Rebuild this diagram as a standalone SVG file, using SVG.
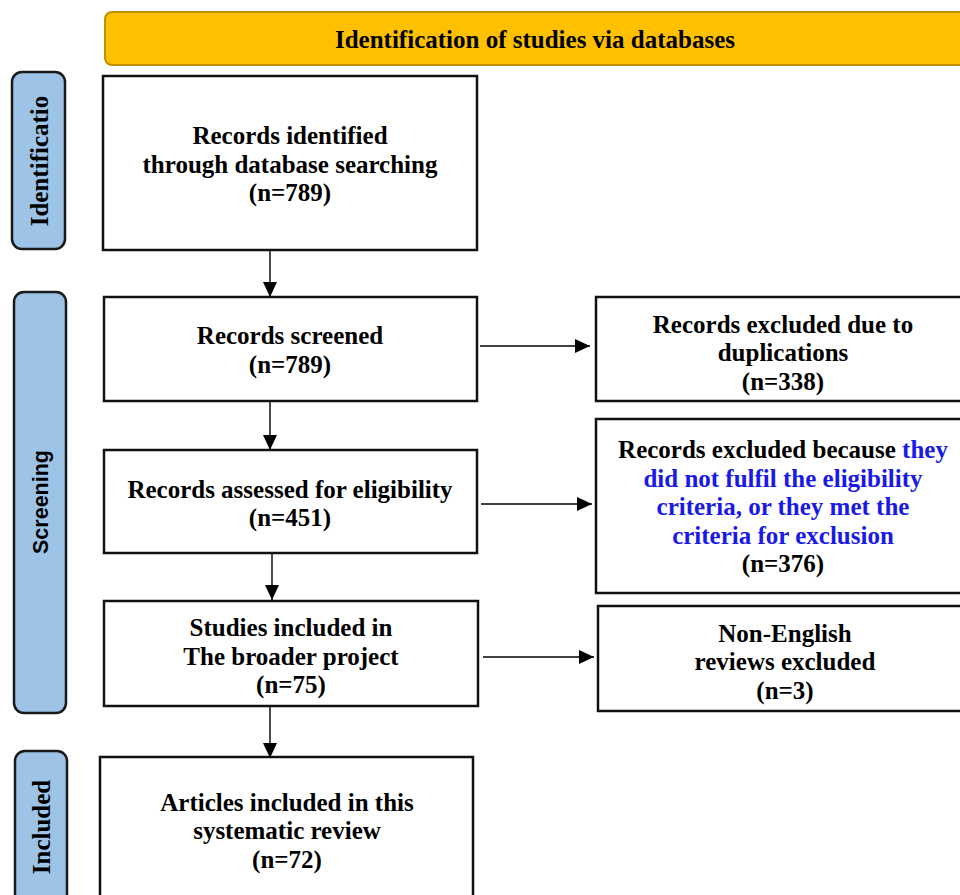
<svg xmlns="http://www.w3.org/2000/svg" width="960" height="895" viewBox="0 0 960 895">
<defs>
<marker id="ah" markerWidth="15" markerHeight="14" refX="15" refY="7" orient="auto" markerUnits="userSpaceOnUse">
<path d="M0,0 L15,7 L0,14 Z" fill="#000"/>
</marker>
<style>
.box{fill:#fff;stroke:#111;stroke-width:2.5}
.side{fill:#9DC3E6;stroke:#1a1a1a;stroke-width:2.5}
.t{font-family:"Liberation Serif","Times New Roman",serif;font-weight:bold;font-size:25px;fill:#000;text-anchor:middle}
.blue{fill:#1a1ae6}
.ss{font-family:"Liberation Sans",Arial,sans-serif;font-weight:bold;font-size:21.5px;fill:#000;text-anchor:middle}
.c{stroke:#000;stroke-width:1.4;fill:none;marker-end:url(#ah)}
</style>
</defs>
<rect width="960" height="895" fill="#fff"/>
<g id="banner">
<rect x="105" y="12" width="870" height="53" rx="7" fill="#FFC000" stroke="#BF9000" stroke-width="2"/>
<text class="t" x="535" y="48">Identification of studies via databases</text>
</g>
<g id="side-identification">
<rect class="side" x="12" y="72" width="53" height="177" rx="10"/>
<text class="t" transform="translate(48,161) rotate(-90)">Identificatio</text>
</g>
<g id="side-screening">
<rect class="side" x="14" y="292" width="52" height="421" rx="10"/>
<text class="ss" transform="translate(48,502) rotate(-90)">Screening</text>
</g>
<g id="side-included">
<rect class="side" x="15" y="751" width="52" height="170" rx="10"/>
<text class="t" transform="translate(50,827) rotate(-90)">Included</text>
</g>
<g id="connectors">
<line class="c" x1="270" y1="243" x2="270" y2="297"/>
<line class="c" x1="270" y1="397" x2="270" y2="450"/>
<line class="c" x1="272" y1="545" x2="272" y2="600"/>
<line class="c" x1="270" y1="700" x2="270" y2="758"/>
<line class="c" x1="480" y1="346" x2="590" y2="346"/>
<line class="c" x1="481" y1="504" x2="592" y2="504"/>
<line class="c" x1="483" y1="657" x2="594" y2="657"/>
</g>
<g id="n-identified">
<rect class="box" x="103" y="76" width="374" height="174"/>
<text class="t" x="290" y="144">Records identified</text>
<text class="t" x="290" y="173">through database searching</text>
<text class="t" x="290" y="201">(n=789)</text>
</g>
<g id="n-screened">
<rect class="box" x="104" y="297" width="373" height="104"/>
<text class="t" x="290" y="344">Records screened</text>
<text class="t" x="290" y="373">(n=789)</text>
</g>
<g id="n-assessed">
<rect class="box" x="104" y="450" width="373" height="103"/>
<text class="t" x="290" y="498">Records assessed for eligibility</text>
<text class="t" x="290" y="526">(n=451)</text>
</g>
<g id="n-broader">
<rect class="box" x="104" y="601" width="374" height="105"/>
<text class="t" x="291" y="636">Studies included in</text>
<text class="t" x="291" y="665">The broader project</text>
<text class="t" x="291" y="693">(n=75)</text>
</g>
<g id="n-included">
<rect class="box" x="100" y="757" width="373" height="160"/>
<text class="t" x="287" y="811">Articles included in this</text>
<text class="t" x="287" y="839">systematic review</text>
<text class="t" x="287" y="868">(n=72)</text>
</g>
<g id="n-dup">
<rect class="box" x="596" y="297" width="380" height="104"/>
<text class="t" x="783" y="333">Records excluded due to</text>
<text class="t" x="783" y="361">duplications</text>
<text class="t" x="783" y="390">(n=338)</text>
</g>
<g id="n-ineligible">
<rect class="box" x="596" y="419" width="380" height="174"/>
<text class="t" x="783" y="458">Records excluded because <tspan class="blue">they</tspan></text>
<text class="t blue" x="783" y="487">did not fulfil the eligibility</text>
<text class="t blue" x="783" y="515">criteria, or they met the</text>
<text class="t blue" x="783" y="544">criteria for exclusion</text>
<text class="t" x="783" y="572">(n=376)</text>
</g>
<g id="n-nonenglish">
<rect class="box" x="598" y="606" width="378" height="105"/>
<text class="t" x="785" y="642">Non-English</text>
<text class="t" x="785" y="670">reviews excluded</text>
<text class="t" x="785" y="699">(n=3)</text>
</g>
</svg>
